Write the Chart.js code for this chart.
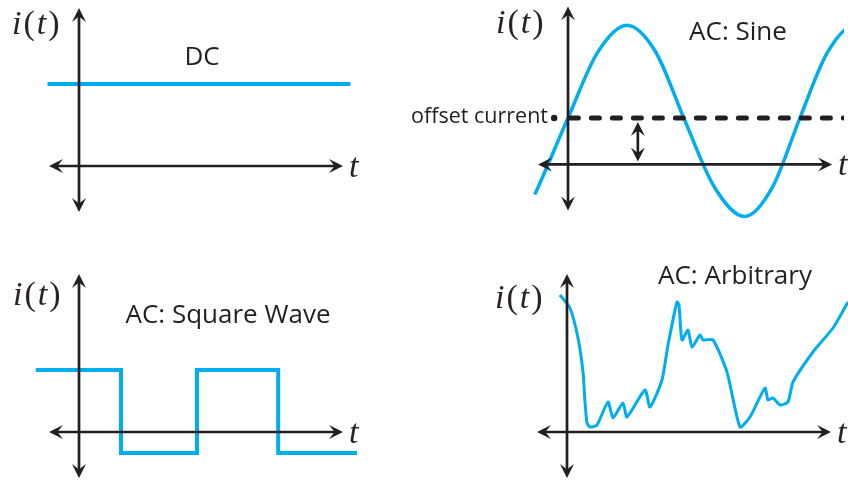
<!DOCTYPE html>
<html>
<head>
<meta charset="utf-8">
<script src="https://cdn.jsdelivr.net/npm/chart.js@4"></script>
<style>
  html, body { margin: 0; padding: 0; background: #fff; }
  body { width: 848px; height: 481px; position: relative; overflow: hidden; }
  canvas { position: absolute; }
</style>
</head>
<body>
<canvas id="dc" width="400" height="240" style="left:0;top:0"></canvas>
<canvas id="sine" width="448" height="240" style="left:400px;top:0"></canvas>
<canvas id="square" width="400" height="241" style="left:0;top:240px"></canvas>
<canvas id="arb" width="448" height="241" style="left:400px;top:240px"></canvas>
<script>
// DC
const dcTime = [-1.05, 9.05];
const dcCurrent = [1, 1];

// AC sine (offset current = 1)
const sineTime = [-1.13, -1, 0, 1, 2, 2.97, 3.93, 4.97, 6, 6.93, 7.87, 8.8, 9.73, 10.67];
const sineCurrent = [-0.65, -0.47, 1, 2.41, 3, 2.43, 1, -0.49, -1.12, -0.5, 1, 2.41, 3, 2.41];
const offsetTime = [0.08, 10];
const offsetCurrent = [1, 1];
const offsetDotTime = -0.47;
const offsetArrowTime = 2.37;

// AC square wave
const squareTime = [-1.08, 1.05, 2.95, 4.98, 6.95];
const squareCurrent = [1, -0.34, 1, -0.34, -0.34];

// AC arbitrary
const arbTime = [-0.7, 0.3, 1.1, 1.6, 1.8, 2.0, 2.3, 3.0, 4.1, 4.6, 5.6, 6.0, 7.8, 8.3, 9.5, 10.1, 11.0, 11.2, 11.5,
  12.1, 12.5, 13.3, 13.6, 14.6, 16.0, 17.3, 18.3, 19.8, 20.1, 20.6, 21.3, 22.1, 22.6, 24.6, 26.6, 28.1];
const arbCurrent = [13.7, 12.4, 9.4, 6.0, 3.0, 0.9, 0.5, 0.7, 3.0, 1.4, 2.9, 1.5, 4.2, 2.5, 5.2, 8.7, 13.0, 12.7, 9.2,
  10.2, 8.5, 9.7, 9.2, 9.2, 6.0, 0.5, 1.5, 4.4, 3.2, 3.4, 2.7, 3.0, 5.0, 8.0, 10.4, 13.0];

const AXIS = '#231f20';
const BLUE = '#00aeef';
const TITLE_FONT = '26px "Open Sans"';

function points(xs, ys) {
  return xs.map((t, i) => ({ x: t, y: ys[i] }));
}

function arrowHead(ctx, x, y, ang) {
  const len = 14, half = 7;
  const dx = Math.cos(ang), dy = Math.sin(ang);
  ctx.beginPath();
  ctx.moveTo(x, y);
  ctx.lineTo(x - len * dx - half * dy, y - len * dy + half * dx);
  ctx.lineTo(x - 0.6 * len * dx, y - 0.6 * len * dy);
  ctx.lineTo(x - len * dx + half * dy, y - len * dy - half * dx);
  ctx.closePath();
  ctx.fill();
}

function arrowLine(ctx, x1, y1, x2, y2, both) {
  const ang = Math.atan2(y2 - y1, x2 - x1);
  const c = Math.cos(ang) * 8, s = Math.sin(ang) * 8;
  ctx.beginPath();
  if (both) ctx.moveTo(x1 + c, y1 + s); else ctx.moveTo(x1, y1);
  ctx.lineTo(x2 - c, y2 - s);
  ctx.stroke();
  arrowHead(ctx, x2, y2, ang);
  if (both) arrowHead(ctx, x1, y1, ang + Math.PI);
}

function mathLabel(ctx, x, y) {
  const parts = [['i', true], ['(', false], ['t', true], [')', false]];
  for (const [s, it] of parts) {
    ctx.font = (it ? 'italic ' : '') + '34px "Liberation Serif"';
    ctx.fillText(s, x, y);
    x += ctx.measureText(s).width + 2;
  }
}

function decor(d) {
  return {
    id: 'decor',
    afterDatasetsDraw(chart) {
      const ctx = chart.ctx;
      const sx = chart.scales.x, sy = chart.scales.y;
      const ox = sx.getPixelForValue(0), oy = sy.getPixelForValue(0);
      ctx.save();
      ctx.strokeStyle = AXIS;
      ctx.fillStyle = AXIS;
      ctx.lineWidth = 2.7;
      // axes with arrows
      arrowLine(ctx, ox, oy + 46, ox, oy - 158, true);
      arrowLine(ctx, ox - 30, oy, ox + 264, oy, true);

      if (d.arrowT !== undefined) {
        const ax = sx.getPixelForValue(d.arrowT);
        arrowLine(ctx, ax, sy.getPixelForValue(1) + 4, ax, oy - 3, true);
      }

      ctx.fillStyle = '#2a2220';
      ctx.textBaseline = 'alphabetic';
      ctx.textAlign = 'left';
      mathLabel(ctx, ox + d.mathDx, oy + d.mathDy);
      ctx.font = 'italic 34px "Liberation Serif"';
      ctx.fillText('t', ox + 270, oy + 11);

      ctx.fillStyle = AXIS;
      ctx.font = TITLE_FONT;
      ctx.textAlign = 'center';
      ctx.fillText(d.title, d.titleX, d.titleY);
      if (d.note) {
        ctx.font = '21.5px "Open Sans"';
        ctx.textAlign = 'right';
        ctx.fillText(d.note, d.noteX, d.noteY);
      }
      ctx.restore();
    }
  };
}

function makePanel(id, frame, datasets, d) {
  const canvas = document.getElementById(id);
  const w = canvas.width, h = canvas.height;
  return new Chart(canvas, {
    type: 'line',
    data: { datasets },
    options: {
      responsive: false,
      animation: false,
      devicePixelRatio: 1,
      layout: { padding: 0 },
      elements: { point: { radius: 0 } },
      scales: {
        x: { type: 'linear', display: false, min: -frame.ox / frame.ux, max: (w - frame.ox) / frame.ux },
        y: { type: 'linear', display: false, min: -(h - frame.oy) / frame.uy, max: frame.oy / frame.uy }
      },
      plugins: { legend: { display: false }, tooltip: { enabled: false } }
    },
    plugins: [decor(d)]
  });
}

makePanel('dc', { ox: 79, oy: 166, ux: 30, uy: 82 }, [
  { data: points(dcTime, dcCurrent), borderColor: BLUE, borderWidth: 4, borderCapStyle: 'butt' }
], { title: 'DC', titleX: 202, titleY: 65, mathDx: -67, mathDy: -132 });

makePanel('sine', { ox: 167, oy: 166, ux: 30, uy: 48 }, [
  { data: points(offsetTime, offsetCurrent), borderColor: AXIS, borderWidth: 5,
    borderDash: [8, 13], borderCapStyle: 'round' },
  { data: [{ x: offsetDotTime, y: 1 }], showLine: false, pointRadius: 3.2,
    pointBackgroundColor: AXIS, pointBorderWidth: 0 },
  { data: points(sineTime, sineCurrent), borderColor: BLUE, borderWidth: 3.5,
    cubicInterpolationMode: 'monotone' }
], { title: 'AC: Sine', titleX: 338, titleY: 40, mathDx: -72, mathDy: -131,
  arrowT: offsetArrowTime, note: 'offset current', noteX: 148, noteY: 123 });

makePanel('square', { ox: 79, oy: 192, ux: 40, uy: 62 }, [
  { data: points(squareTime, squareCurrent), borderColor: BLUE, borderWidth: 4, stepped: true,
    borderJoinStyle: 'miter' }
], { title: 'AC: Square Wave', titleX: 228, titleY: 83, mathDx: -66, mathDy: -127 });

makePanel('arb', { ox: 167, oy: 192, ux: 10, uy: 10 }, [
  { data: points(arbTime, arbCurrent), borderColor: BLUE, borderWidth: 3, tension: 0.2 }
], { title: 'AC: Arbitrary', titleX: 335, titleY: 44, mathDx: -72, mathDy: -124 });
</script>
</body>
</html>
